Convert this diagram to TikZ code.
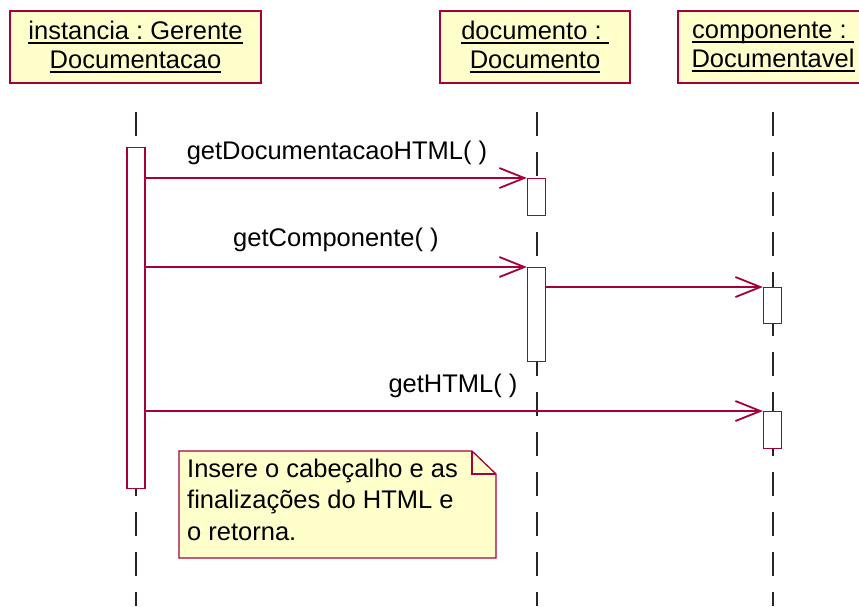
\documentclass[tikz,border=0pt]{standalone}
\usepackage{fontspec}
\setmainfont{Liberation Sans}
\usetikzlibrary{arrows.meta}
\definecolor{umlred}{RGB}{165,0,60}
\definecolor{umlyellow}{RGB}{255,255,204}
\newcommand\uln[1]{\setbox0\hbox{#1}\rlap{\rule[-4pt]{\wd0}{1.3pt}}\box0}
\frenchspacing
\begin{document}
\frenchspacing
\begin{tikzpicture}[x=1pt,y=-1pt,
  objbox/.style={draw=umlred, fill=umlyellow, line width=1.3pt, align=center,
    font=\fontsize{25.5}{29}\selectfont, inner sep=0pt, minimum height=72pt},
  lifeline/.style={draw=black!85, line width=1.3pt, dash pattern=on 24pt off 16pt},
  actbox/.style={draw=umlred, fill=white, line width=1.3pt, minimum width=18pt,
    inner sep=0pt, anchor=north},
  msg/.style={draw=umlred, line width=1.3pt,
    -{Straight Barb[length=25pt,width=20pt,line width=1.8pt]}},
  lbl/.style={font=\fontsize{25.5}{29}\selectfont, anchor=base, inner sep=0pt},
  notebox/.style={draw=umlred, fill=umlyellow, line width=1.3pt, line join=miter},
  notetext/.style={font=\fontsize{25.5}{31.5}\selectfont, align=left,
    anchor=north west, inner sep=0pt}]
\useasboundingbox (0,0) rectangle (859,606);
\fill[white] (0,0) rectangle (859,606);

% objects
\node[objbox, minimum width=251pt] (o1) at (135.5,47) {\uln{instancia : Gerente}\\\uln{Documentacao}};
\node[objbox, minimum width=190pt] (o2) at (535,47) {\uln{documento :\ }\\\uln{Documento}};
\node[objbox, minimum width=190pt] (o3) at (773,47) {\uln{componente :\ }\\\uln{Documentavel}};

% lifelines
\coordinate (l1a) at (136,112); \coordinate (l1b) at (136,606);
\coordinate (l2a) at (537,112); \coordinate (l2b) at (537,606);
\coordinate (l3a) at (773,112); \coordinate (l3b) at (773,606);
\draw[lifeline] (l1a) -- (l1b);
\draw[lifeline] (l2a) -- (l2b);
\draw[lifeline] (l3a) -- (l3b);

% activations
\node[actbox, minimum height=341pt] (a1) at (136,147) {};
\node[actbox, minimum height=37pt] (a2) at (536.5,178) {};
\node[actbox, minimum height=94pt] (a3) at (536.5,267) {};
\node[actbox, minimum height=36pt] (a4) at (772.5,287) {};
\node[actbox, minimum height=37pt] (a5) at (772.5,411) {};

% messages
\draw[msg] (a1.east |- a2.north) -- (a2.north west);
\draw[msg] (a1.east |- a3.north) -- (a3.north west);
\draw[msg] (a3.east |- a4.north) -- (a4.north west);
\draw[msg] (a1.east |- a5.north) -- (a5.north west);

\node[lbl] (t1) at (337,159) {getDocumentacaoHTML( )};
\node[lbl] (t2) at (336,246) {getComponente( )};
\node[lbl] (t3) at (453,392) {getHTML( )};

% note
\draw[notebox] (179,451) -- (472,451) -- (496,474) -- (496,558) -- (179,558) -- cycle;
\draw[notebox, fill=none] (472,451) -- (472,474) -- (496,474);
\node[notetext] (nt) at (187,458.4) {Insere o cabeçalho e as\\finalizações do HTML e\\o retorna.};
\end{tikzpicture}
\end{document}
